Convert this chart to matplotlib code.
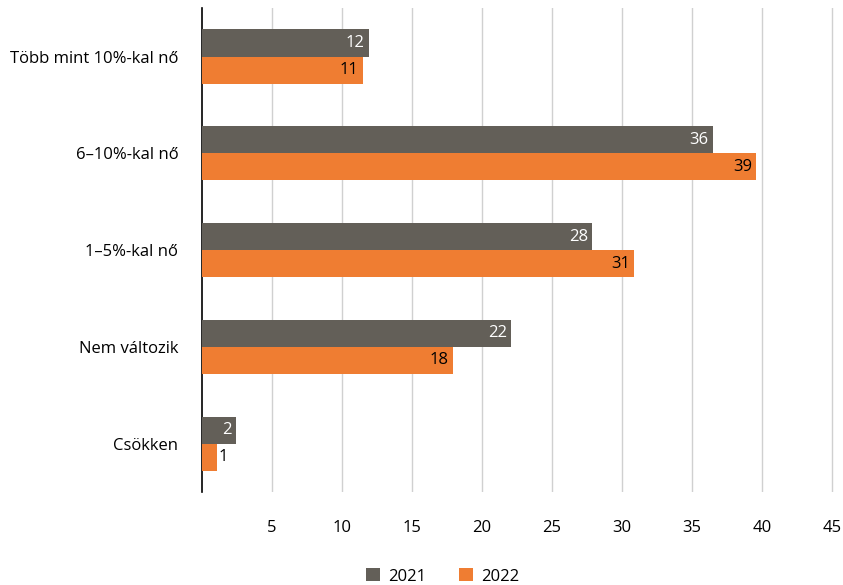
import matplotlib.pyplot as plt
import numpy as np

plt.rcParams['font.family'] = ['Open Sans', 'DejaVu Sans']

categories = ["Több mint 10%-kal nő", "6–10%-kal nő", "1–5%-kal nő", "Nem változik", "Csökken"]
values_2021 = [11.9, 36.5, 27.9, 22.1, 2.4]
values_2022 = [11.5, 39.6, 30.9, 17.9, 1.1]
labels_2021 = ["12", "36", "28", "22", "2"]
labels_2022 = ["11", "39", "31", "18", "1"]
xticks = [5, 10, 15, 20, 25, 30, 35, 40, 45]

c2021 = '#635f58'
c2022 = '#ef7d32'

fig = plt.figure(figsize=(8.43, 5.85), dpi=100)
ax = fig.add_axes([0.2396, 0.159, 0.7604, 0.827])

y = np.arange(len(categories))
h = 0.28
b1 = ax.barh(y - h / 2, values_2021, height=h, color=c2021, label='2021', zorder=3)
b2 = ax.barh(y + h / 2, values_2022, height=h, color=c2022, label='2022', zorder=3)

# feliratok a sávok végén
for rect, lab in zip(b1, labels_2021):
    ax.text(rect.get_width() - 0.3, rect.get_y() + rect.get_height() / 2, lab,
            ha='right', va='center', color='white', fontsize=12, zorder=4)
for rect, lab in zip(b2, labels_2022):
    w = rect.get_width()
    if w < 2:
        ax.text(w + 0.1, rect.get_y() + rect.get_height() / 2, lab,
                ha='left', va='center', color='black', fontsize=12, zorder=4)
    else:
        ax.text(w - 0.3, rect.get_y() + rect.get_height() / 2, lab,
                ha='right', va='center', color='black', fontsize=12, zorder=4)

ax.set_xlim(0, 45.8)
ax.set_ylim(4.5, -0.5)
ax.set_yticks(y)
ax.set_yticklabels(categories, fontsize=12)
ax.set_xticks(xticks)
ax.set_xticklabels([str(t) for t in xticks], fontsize=12)
ax.tick_params(axis='y', length=0, pad=17)
ax.tick_params(axis='x', length=0, pad=20)
ax.grid(axis='x', color='#d0d0d0', linewidth=1, zorder=0)
for s in ['top', 'right', 'bottom']:
    ax.spines[s].set_visible(False)
ax.spines['left'].set_color('black')
ax.spines['left'].set_linewidth(1.2)

fig.legend(handles=[b1, b2], labels=['2021', '2022'], loc='lower center',
           bbox_to_anchor=(0.525, -0.025), ncol=2, frameon=False, fontsize=12,
           handlelength=0.8, handleheight=0.8, columnspacing=2.0, handletextpad=0.5)

fig.savefig('out.png', dpi=100)
